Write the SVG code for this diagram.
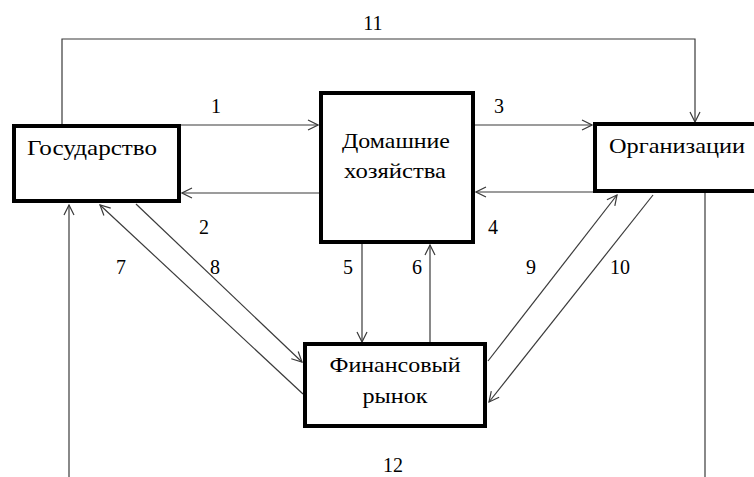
<svg xmlns="http://www.w3.org/2000/svg" width="754" height="477" viewBox="0 0 754 477">
<style>
.box{fill:#fff;stroke:#000;stroke-width:4}
text{fill:#000;text-anchor:middle}
.lbl{font-size:22px}
.num{font-size:20px}
.c{fill:none;stroke:#3a3a3a;stroke-width:1.2}
</style>
<defs>
<marker id="arr" viewBox="0 0 12 12" refX="11" refY="6" markerWidth="12" markerHeight="12" markerUnits="userSpaceOnUse" orient="auto">
<path d="M1,1 L11,6 L1,11" fill="none" stroke="#3a3a3a" stroke-width="1.2"/>
</marker>
</defs>
<rect width="754" height="477" fill="#fff"/>
<g font-family="'Liberation Serif', 'DejaVu Serif', serif">
<g id="connectors">
<path class="c" d="M62,124 V39 H695 V122" marker-end="url(#arr)"/>
<path class="c" d="M181,125 H318" marker-end="url(#arr)"/>
<path class="c" d="M475,125 H592" marker-end="url(#arr)"/>
<path class="c" d="M319,193 H182" marker-end="url(#arr)"/>
<path class="c" d="M593,192 H476" marker-end="url(#arr)"/>
<path class="c" d="M362,243 V342" marker-end="url(#arr)"/>
<path class="c" d="M430,343 V245" marker-end="url(#arr)"/>
<path class="c" d="M303,394 L100,205" marker-end="url(#arr)"/>
<path class="c" d="M136,204 L302,362" marker-end="url(#arr)"/>
<path class="c" d="M488,361 L617,195" marker-end="url(#arr)"/>
<path class="c" d="M653,195 L489,402" marker-end="url(#arr)"/>
<path class="c" d="M69,477 V205" marker-end="url(#arr)"/>
<path class="c" d="M705,193 V477"/>
<text class="num" x="373" y="30">11</text>
<text class="num" x="216" y="113">1</text>
<text class="num" x="499" y="113">3</text>
<text class="num" x="204" y="234">2</text>
<text class="num" x="493" y="234">4</text>
<text class="num" x="121" y="274">7</text>
<text class="num" x="215" y="274">8</text>
<text class="num" x="348" y="274">5</text>
<text class="num" x="417" y="274">6</text>
<text class="num" x="531" y="274">9</text>
<text class="num" x="620" y="274">10</text>
<text class="num" x="393" y="472">12</text>
</g>
<g id="gosudarstvo">
<rect class="box" x="14" y="126" width="165" height="75"/>
<text class="lbl" x="92" y="155" textLength="130" lengthAdjust="spacingAndGlyphs">Государство</text>
</g>
<g id="domashnie">
<rect class="box" x="321" y="93" width="152" height="149"/>
<text class="lbl" x="396" y="148" textLength="108" lengthAdjust="spacingAndGlyphs">Домашние</text>
<text class="lbl" x="395" y="178" textLength="102" lengthAdjust="spacingAndGlyphs">хозяйства</text>
</g>
<g id="organizatsii">
<rect class="box" x="595" y="124" width="170" height="67"/>
<text class="lbl" x="677" y="153" textLength="136" lengthAdjust="spacingAndGlyphs">Организации</text>
</g>
<g id="finansovy">
<rect class="box" x="305" y="344" width="180" height="82"/>
<text class="lbl" x="395" y="372" textLength="131" lengthAdjust="spacingAndGlyphs">Финансовый</text>
<text class="lbl" x="395" y="403" textLength="65" lengthAdjust="spacingAndGlyphs">рынок</text>
</g>
</g>
</svg>
